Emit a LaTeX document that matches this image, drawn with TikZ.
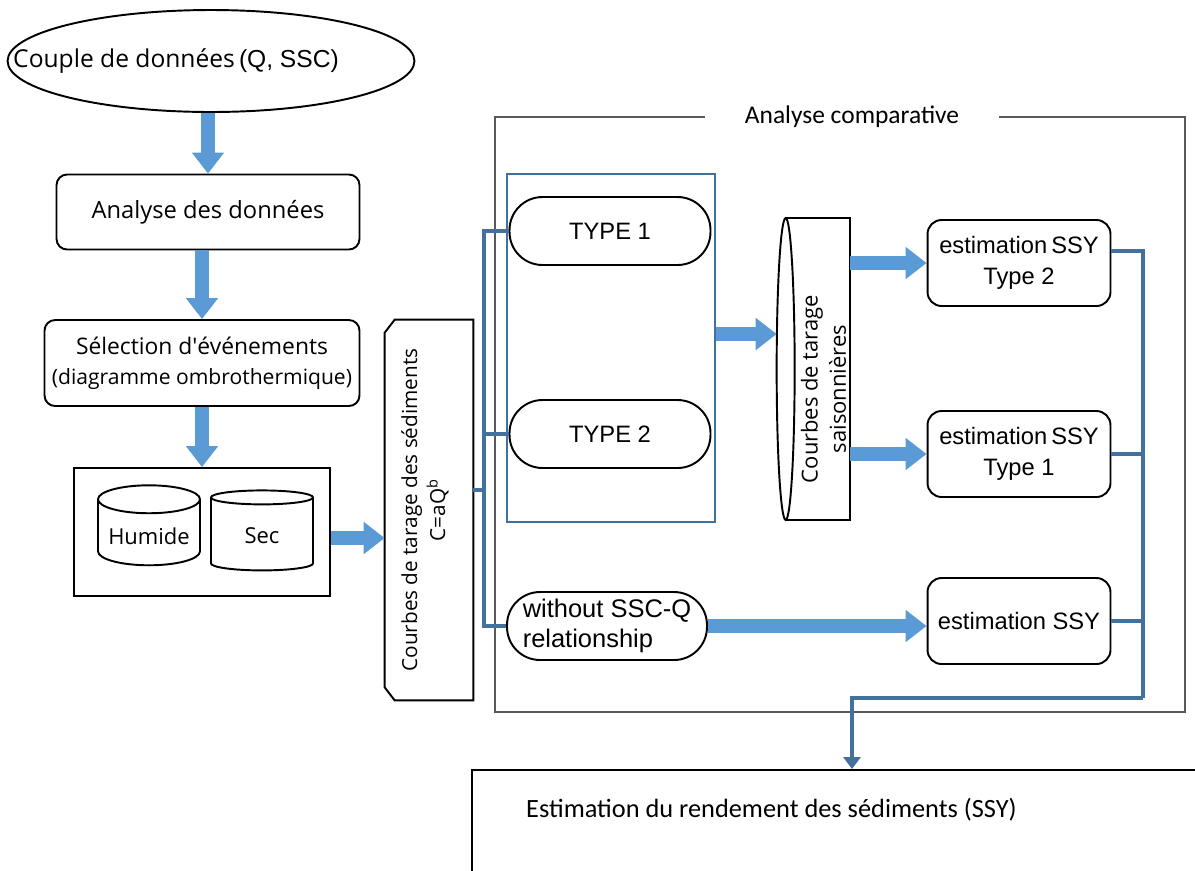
\documentclass[tikz,border=0pt]{standalone}
\usepackage{fontspec}
\setmainfont{Open Sans}
\newfontfamily\straightfont{Open Sans}[Ligatures=TeXOff]
\newfontfamily\arialfont{Liberation Sans}
\newfontfamily\calibrifont{Carlito}
\usetikzlibrary{shapes.geometric,arrows.meta,positioning}
\definecolor{arrowfill}{HTML}{5B9BD5}
\definecolor{linkblue}{HTML}{41719C}
\tikzset{
    round-box/.style = {draw, line width=1.1pt, rectangle, rounded corners=6pt, align=center, inner sep=1pt},
    pill-box/.style = {draw, line width=1.1pt, rectangle, rounded corners=0.66cm, minimum width=4.02cm, minimum height=1.36cm, font=\arialfont\fontsize{13.5}{16.5}\selectfont},
    estim-box/.style = {round-box, rounded corners=8pt, minimum width=3.66cm, minimum height=1.72cm, font=\arialfont\fontsize{13.5}{18}\selectfont},
    data-cyl/.style = {draw, line width=1.1pt, cylinder, shape border rotate=90, aspect=0.3, minimum width=2.04cm, minimum height=1.6cm, font=\fontsize{12.5}{14}\selectfont},
    fat-arrow/.style = {line width=0.27cm, arrowfill, -{Triangle[width=0.62cm, length=0.42cm]}},
    blue-link/.style = {line width=2.2pt, linkblue},
}

\begin{document}
\begin{tikzpicture}[x=0.02cm, y=-0.02cm]
\useasboundingbox (0,0) rectangle (1195,870);
\clip (0,0) rectangle (1195,870);

% left column
\node [draw, line width=1.1pt, ellipse, minimum width=8.14cm, minimum height=2.04cm] (couple) at (211,61) {};
\node [font=\fontsize{14}{16}\selectfont] (couple-text) at (176,61) {Couple de données\,{\arialfont(Q, SSC)}};
\node [round-box, minimum width=6.06cm, minimum height=1.5cm, font=\fontsize{13.5}{16}\selectfont] (analyse) at (208,212) {Analyse des données};
\node [round-box, minimum width=6.3cm, minimum height=1.72cm, font=\fontsize{13}{17}\selectfont] (selection) at (202,363) {Sélection d{\straightfont'}événements\\{\fontsize{12}{15}\selectfont(diagramme ombrothermique)}};
\node [draw, line width=1.1pt, minimum width=5.12cm, minimum height=2.56cm] (donnees) at (202,532) {};
\node [data-cyl] (humide) at (149,536) {Humide};
\node [data-cyl] (sec) at (262,536) {Sec};

\draw [fat-arrow] (analyse.north |- couple.south) -- (analyse.north);
\draw [fat-arrow] (selection.north |- analyse.south) -- (selection.north);
\draw [fat-arrow] (selection.south) -- (donnees.north);

% rating curve
\node [minimum width=1.76cm, minimum height=7.6cm] (courbes) at (429,510) {};
\draw [line width=1.1pt] ([xshift=0.2cm]courbes.north west) -- (courbes.north east) -- (courbes.south east)
    -- ([xshift=0.2cm]courbes.south west) -- ([yshift=0.26cm]courbes.south west)
    -- ([yshift=-0.26cm]courbes.north west) -- cycle;
\node [rotate=90, align=center, font=\fontsize{11.8}{16}\selectfont] (courbes-text) at ([xshift=-0.08cm]courbes.center) {Courbes de tarage des sédiments\\C=aQ\textsuperscript{b}};
\draw [fat-arrow] ([yshift=-0.12cm]donnees.east) -- ([yshift=-0.12cm]donnees.east -| courbes.west);

% comparative frame
\node [draw, gray!70!black, line width=0.8pt, minimum width=13.8cm, minimum height=11.9cm] (comparatif) at (840,414.5) {};
\node [fill=white, inner xsep=0.8cm, font=\calibrifont\fontsize{14.5}{17}\selectfont] (comparatif-titre) at (852,117) {Analyse comparative};
\node [draw=linkblue, line width=1pt, minimum width=4.16cm, minimum height=6.96cm] (types) at (611,348) {};
\node [pill-box] (type1) at (610,231) {TYPE 1};
\node [pill-box] (type2) at (610,434) {TYPE 2};
\node [pill-box, minimum width=4cm, align=left, font=\arialfont\fontsize{14.5}{17}\selectfont] (without) at (607,626) {without SSC-Q\\relationship};

\draw [blue-link] (type1.west) -- ++(-0.5cm,0) |- (without.west);
\draw [blue-link] (type2.west) -- ++(-0.5cm,0);
\draw [blue-link] ([yshift=0.4cm]courbes.east) -- ++(0.24cm,0);

% seasonal curves
\node [minimum width=1.46cm, minimum height=6.04cm] (saison) at (813.5,369) {};
\draw [line width=1.1pt] ([xshift=0.18cm]saison.north west) -- (saison.north east) -- (saison.south east) -- ([xshift=0.18cm]saison.south west);
\draw [line width=1.1pt] ([xshift=0.18cm]saison.west) ellipse [x radius=0.18cm, y radius=3.02cm];
\node [rotate=90, align=center, font=\fontsize{12.5}{16}\selectfont] (saison-text) at ([xshift=0.2cm, yshift=-0.4cm]saison.center) {Courbes de tarage\\saisonnières};
\draw [fat-arrow] ([yshift=0.28cm]types.east) -- ([yshift=0.28cm]types.east -| saison.west);

\node [estim-box] (estim2) at (1019,263) {estimation\,SSY\\Type 2};
\node [estim-box] (estim1) at (1019,454) {estimation\,SSY\\Type 1};
\node [estim-box] (estim0) at (1019,621) {estimation SSY};

\draw [fat-arrow] (saison.east |- estim2.west) -- (estim2.west);
\draw [fat-arrow] (saison.east |- estim1.west) -- (estim1.west);
\draw [fat-arrow] (without.east) -- (without.east -| estim0.west);

% result
\node [draw, line width=1.1pt, minimum width=15.2cm, minimum height=2.6cm] (rendement) at (852,835) {};
\node [anchor=west, font=\calibrifont\fontsize{15}{18}\selectfont] (rendement-text) at (520,810) {Estimation du rendement des sédiments (SSY)};

\coordinate (collect) at (1143,698);
\draw [blue-link] ([yshift=0.24cm]estim2.east) -| (collect);
\draw [blue-link] (estim1.east) -- (estim1.east -| collect);
\draw [blue-link] (estim0.east) -- (estim0.east -| collect);
\draw [blue-link, line width=2.8pt, -{Triangle[width=0.34cm, length=0.24cm]}] (collect) -| (rendement.north);
\end{tikzpicture}
\end{document}
